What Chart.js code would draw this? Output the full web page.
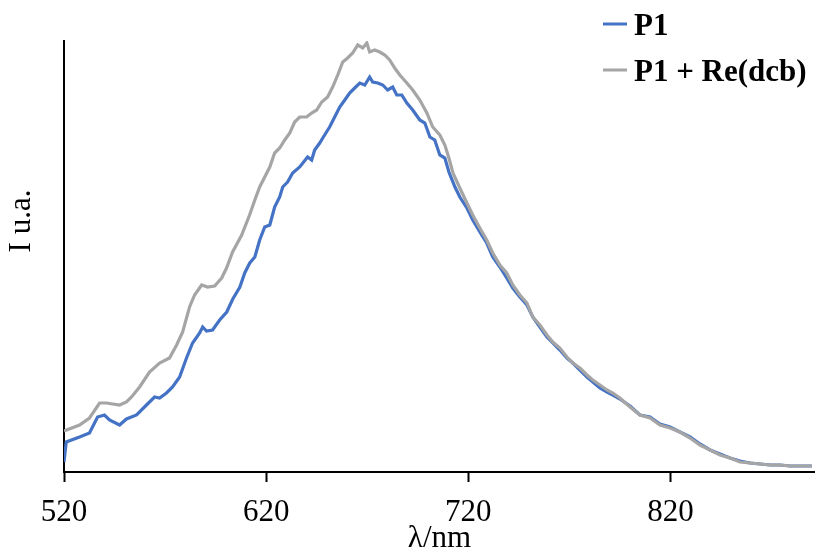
<!DOCTYPE html>
<html>
<head>
<meta charset="utf-8">
<script src="https://cdn.jsdelivr.net/npm/chart.js@4"></script>
<style>
  html, body { margin: 0; padding: 0; background: #fff; }
  #wrap { width: 815px; height: 548px; }
</style>
</head>
<body>
<div id="wrap"><canvas id="grafico" width="815" height="548"></canvas></div>
<script>
// eixo x (nm) e rótulos
const xTicks = [520, 620, 720, 820];
const xMin = 520;
const xMax = 891.5;

const seriesNames = ['P1', 'P1 + Re(dcb)'];

// P1 (azul)
const wlP1 = [520, 521.1, 527.7, 532.6, 536.6, 540.0, 542.5, 547.5, 550.9, 555.9, 560.8, 564.8, 567.3, 570.7, 573.7,
  577.2, 580.6, 583.6, 587.1, 588.6, 590.5, 593.5, 597.0, 600.5, 603.5, 607.0, 609.4, 611.9, 614.4, 616.8, 619.3,
  621.8, 624.2, 626.7, 628.2, 630.6, 633.1, 636.6, 640.5, 642.5, 644.0, 646.5, 648.0, 651.4, 653.9, 656.4, 658.9,
  661.3, 663.8, 666.3, 668.8, 671.2, 672.7, 675.2, 677.7, 680.1, 682.6, 684.6, 687.1, 689.6, 692.5, 696.0, 698.5,
  701.0, 703.4, 705.9, 708.4, 710.4, 713.4, 715.8, 719.3, 722.2, 725.7, 729.1, 732.1, 735.6, 739.0, 742.0, 745.5,
  749.0, 751.9, 755.4, 758.9, 761.8, 765.3, 768.8, 771.7, 775.2, 778.7, 781.6, 785.1, 788.6, 791.5, 795.0, 800.0,
  804.9, 809.9, 814.8, 819.8, 824.7, 829.7, 834.6, 839.6, 844.5, 849.5, 854.4, 859.4, 864.4, 869.3, 874.3, 879.2,
  884.2, 890.0];
const intP1 = [10, 30, 35, 39, 55, 57, 52, 47, 53, 57, 67, 75, 74, 79, 85,
  95, 114, 129, 139, 145, 141, 142, 152, 160, 173, 185, 199, 209, 215, 232, 245,
  247, 265, 275, 285, 290, 299, 305, 315, 312, 322, 329, 334, 345, 355, 365, 372,
  379, 384, 389, 387, 395, 390, 389, 387, 382, 385, 377, 377, 369, 362, 352, 349,
  335, 332, 317, 314, 300, 285, 275, 264, 252, 240, 229, 215, 205, 194, 184, 175,
  167, 155, 145, 135, 129, 122, 114, 109, 102, 95, 90, 84, 80, 77, 73, 66,
  57, 55, 48, 45, 40, 35, 28, 22, 18, 14, 11, 9, 8, 7, 7, 6,
  6, 6];

// P1 + Re(dcb) (cinza)
const wlP1Re = [520, 527.7, 532.6, 537.6, 541.0, 547.5, 550.9, 553.4, 557.4, 562.3, 567.3, 572.2, 575.7, 578.7, 582.1,
  584.6, 588.1, 591.0, 594.5, 598.0, 600.4, 603.4, 607.9, 611.8, 614.4, 616.8, 619.3, 621.8, 624.2, 626.7, 629.2,
  631.7, 634.1, 636.6, 640.0, 642.5, 645.0, 647.5, 650.4, 652.9, 655.4, 657.9, 660.3, 662.8, 665.3, 667.8, 669.8,
  671.2, 673.7, 676.2, 678.7, 681.1, 683.6, 686.1, 689.6, 692.5, 696.0, 699.5, 702.4, 705.9, 708.4, 710.4, 712.4,
  715.8, 719.3, 722.2, 725.7, 729.1, 732.1, 735.6, 739.0, 742.0, 745.5, 749.0, 751.9, 755.4, 758.9, 761.8, 765.3,
  768.8, 771.7, 775.2, 778.7, 781.6, 785.1, 788.6, 791.5, 795.0, 800.0, 804.9, 809.9, 814.8, 819.8, 824.7, 829.7,
  834.6, 839.6, 844.5, 849.5, 854.4, 859.4, 864.4, 869.3, 874.3, 879.2, 884.2, 890.0];
const intP1Re = [41, 47, 54, 69, 69, 67, 70, 75, 85, 100, 109, 114, 127, 140, 165,
  177, 187, 185, 186, 194, 204, 220, 237, 257, 272, 285, 295, 305, 319, 324, 332,
  339, 350, 355, 355, 359, 362, 370, 375, 385, 397, 410, 414, 419, 427, 424, 429,
  420, 422, 420, 417, 412, 404, 397, 389, 382, 372, 359, 345, 337, 327, 314, 299,
  284, 269, 257, 244, 232, 219, 207, 199, 187, 177, 169, 155, 147, 137, 130, 124,
  115, 109, 104, 97, 92, 87, 82, 79, 74, 65, 57, 54, 47, 44, 40, 34,
  27, 22, 17, 14, 10, 9, 8, 7, 7, 6, 6, 6];

const corP1 = '#4472C4';
const corP1Re = '#A5A5A5';
const fonteSerif = '"Liberation Serif", "Times New Roman", serif';

// legenda e título do eixo y desenhados à mão (posição livre)
const extras = {
  id: 'extras',
  afterDraw(chart) {
    const ctx = chart.ctx;
    ctx.save();
    const linhas = [
      { nome: seriesNames[0], cor: corP1, y: 24 },
      { nome: seriesNames[1], cor: corP1Re, y: 70 }
    ];
    linhas.forEach(l => {
      ctx.strokeStyle = l.cor;
      ctx.lineWidth = 3;
      ctx.beginPath();
      ctx.moveTo(603, l.y);
      ctx.lineTo(627, l.y);
      ctx.stroke();
      ctx.fillStyle = '#000';
      ctx.font = 'bold 31px ' + fonteSerif;
      ctx.textBaseline = 'middle';
      ctx.textAlign = 'left';
      ctx.fillText(l.nome, 634, l.y + 3);
    });

    ctx.translate(22, 221);
    ctx.rotate(-Math.PI / 2);
    ctx.font = '31px ' + fonteSerif;
    ctx.textAlign = 'center';
    ctx.textBaseline = 'middle';
    ctx.fillStyle = '#000';
    ctx.fillText('I u.a.', 0, 0);
    ctx.restore();
  }
};

new Chart(document.getElementById('grafico'), {
  type: 'line',
  data: {
    datasets: [
      {
        label: seriesNames[0],
        data: wlP1.map((x, i) => ({ x: x, y: intP1[i] })),
        borderColor: corP1,
        borderWidth: 3.2,
        pointRadius: 0,
        order: 1
      },
      {
        label: seriesNames[1],
        data: wlP1Re.map((x, i) => ({ x: x, y: intP1Re[i] })),
        borderColor: corP1Re,
        borderWidth: 3.2,
        pointRadius: 0,
        order: 0
      }
    ]
  },
  options: {
    responsive: false,
    animation: false,
    devicePixelRatio: 1,
    layout: { padding: { top: 41, right: 0, bottom: 0, left: 0 } },
    plugins: { legend: { display: false }, tooltip: { enabled: false } },
    scales: {
      x: {
        type: 'linear',
        min: xMin,
        max: xMax,
        afterBuildTicks: (scale) => { scale.ticks = xTicks.map(v => ({ value: v })); },
        afterFit: (scale) => { scale.height = 76; },
        grid: { display: true, drawOnChartArea: false, drawTicks: true, tickLength: 10, tickWidth: 2, tickColor: '#000' },
        border: { display: true, color: '#000', width: 2 },
        ticks: { color: '#000', font: { family: fonteSerif, size: 31 }, padding: 12, maxRotation: 0 },
        title: { display: true, text: 'λ/nm', color: '#000', font: { family: fonteSerif, size: 31 }, padding: { top: 0, bottom: -9 } }
      },
      y: {
        min: 0,
        max: 431,
        afterFit: (scale) => { scale.width = 64; },
        grid: { display: false },
        border: { display: true, color: '#000', width: 2 },
        ticks: { display: false }
      }
    }
  },
  plugins: [extras]
});
</script>
</body>
</html>
